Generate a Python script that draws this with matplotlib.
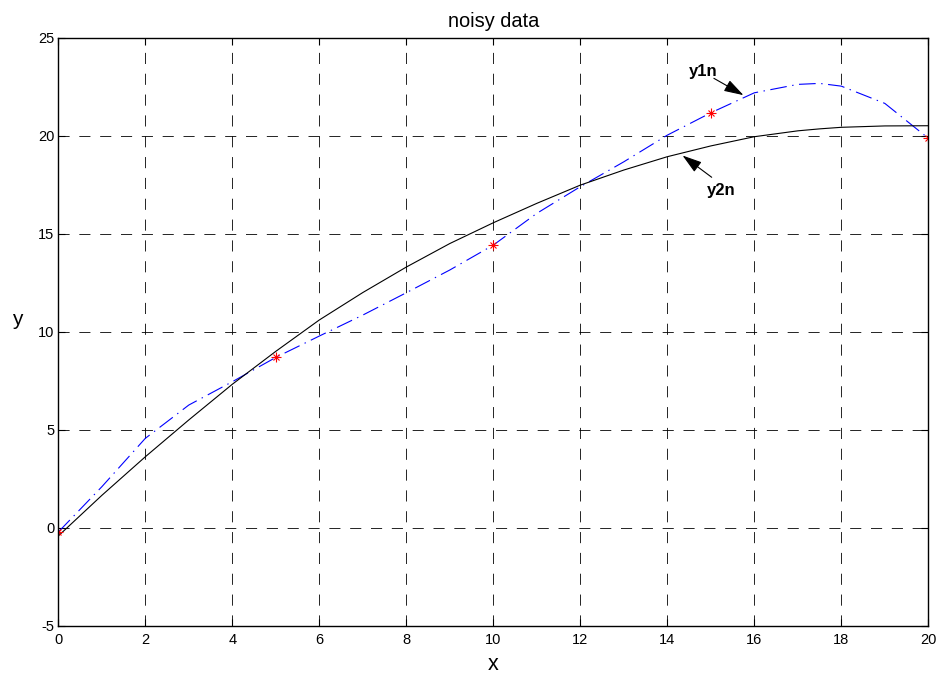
import matplotlib.pyplot as plt

plt.rcParams['font.family'] = ['Liberation Sans', 'DejaVu Sans']
plt.rcParams['lines.scale_dashes'] = False
plt.rcParams['axes.unicode_minus'] = False

# noisy samples (red stars)
x_pts = [0, 5, 10, 15, 20]
y_pts = [-0.22, 8.69, 14.42, 21.17, 19.87]

# curves
x_curve = [0, 1, 2, 3, 4, 5, 6, 7, 8, 9, 10, 11, 12, 13, 14, 15, 16, 17, 17.5, 18, 19, 20]
y1n = [-0.22, 2.09, 4.56, 6.26, 7.45, 8.69, 9.78, 10.85, 11.99, 13.15,
       14.42, 16.04, 17.40, 18.67, 20.03, 21.17, 22.19, 22.62, 22.67, 22.53, 21.65, 19.87]
y2n = [-0.42, 1.65, 3.62, 5.50, 7.32, 9.00, 10.60, 12.00, 13.30, 14.50,
       15.56, 16.55, 17.48, 18.25, 18.93, 19.48, 19.95, 20.25, 20.35, 20.43, 20.50, 20.51]

fig = plt.figure(figsize=(9.36, 6.75), dpi=100)
ax = fig.add_axes([0.0623, 0.073, 0.9295, 0.8711])

ax.plot(x_curve, y1n, color='blue', lw=0.8, linestyle=(0, (12, 4, 1, 4)))
ax.plot(x_curve, y2n, color='black', lw=0.8)
ax.plot(x_pts, y_pts, linestyle='none', marker='+', color='red', ms=7, mew=0.8)
ax.plot(x_pts, y_pts, linestyle='none', marker='x', color='red', ms=5, mew=0.8)

ax.set_xlim(0, 20)
ax.set_ylim(-5, 25)
ax.set_xticks(range(0, 21, 2))
ax.set_yticks(range(-5, 26, 5))
ax.grid(True, color='black', lw=0.6, linestyle=(0, (8, 7)))
ax.set_axisbelow(True)
ax.tick_params(direction='in', top=True, right=True, length=5, labelsize=10.5)
ax.tick_params(axis='x', pad=5)
ax.tick_params(axis='y', pad=3)
for s in ax.spines.values():
    s.set_linewidth(1.0)

ax.set_title('noisy data', fontsize=14.4, pad=8)
ax.set_xlabel('x', fontsize=15.5, va='center')
ax.xaxis.set_label_coords(0.5, -0.066)
ax.set_ylabel('y', fontsize=15, rotation=0, ha='center', va='baseline')
ax.yaxis.set_label_coords(-0.0467, 0.511)

arrow = dict(arrowstyle='-|>,head_length=0.8,head_width=0.25', color='black',
             lw=0.8, shrinkA=0, shrinkB=0, mutation_scale=15)
ax.annotate('', xy=(15.75, 22.07), xytext=(15.07, 22.93), arrowprops=arrow)
ax.annotate('', xy=(14.35, 18.99), xytext=(15.02, 17.88), arrowprops=arrow)
ax.text(14.82, 23.27, 'y1n', fontsize=12, fontweight='bold', ha='center', va='center')
ax.text(15.23, 17.19, 'y2n', fontsize=12, fontweight='bold', ha='center', va='center')

fig.savefig('out.png', dpi=100)
